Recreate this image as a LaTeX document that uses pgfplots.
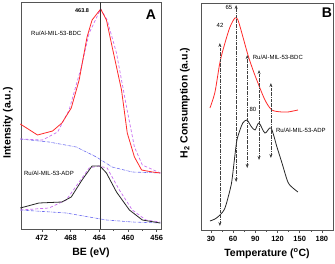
\documentclass[border=0pt]{standalone}
\usepackage{fontspec}
\setmainfont{Liberation Sans}
\usepackage{pgfplots}
\pgfplotsset{compat=1.18}
\usetikzlibrary{arrows.meta}
\definecolor{cred}{HTML}{FF2A2A}
\definecolor{cpur}{HTML}{C86EF0}
\definecolor{cblu}{HTML}{6A6AF0}
\definecolor{cfr}{HTML}{555555}
\tikzset{
  lab/.style={font=\fontsize{6}{7}\selectfont, inner sep=0pt},
  arr/.style={black!75, densely dashdotted, line width=0.6pt, {Stealth[length=4pt,width=3pt]}-{Stealth[length=4pt,width=3pt]}},
}
\begin{document}
\begin{tikzpicture}
\useasboundingbox (0pt,0pt) rectangle (335pt,263pt);
\pgfplotsset{
  common/.style={
    scale only axis, height=227pt, ymin=0, ymax=227, ytick=\empty,
    xtick pos=bottom, tick align=outside, minor x tick num=1,
    major tick length=2.5pt, minor tick length=1.5pt,
    axis line style={draw=cfr, line width=0.8pt},
    every tick/.style={cfr, line width=0.6pt},
    /pgf/number format/assume math mode=true,
    xticklabel style={font=\bfseries\fontsize{7.5}{8}\selectfont, yshift=-0.5pt},
    label style={font=\bfseries\fontsize{10.5}{12}\selectfont},
    xlabel style={at={(axis description cs:0.5,-0.106)}, anchor=center},
    clip=false,
  },
}
% ---------------- Panel A ----------------
\begin{axis}[common, at={(21pt,34pt)}, anchor=south west, width=140pt,
  x dir=reverse, xmin=455.4, xmax=474.9, xtick={456,460,464,468,472},
  xlabel={BE (eV)}, ylabel={Intensity (a.u.)},
  ylabel style={at={(axis description cs:-0.093,0.467)}, anchor=center}]
\addplot[cblu, densely dashdotted, line width=0.6pt] coordinates {
(475.0,90)(471.0,87)(467.2,82)(464.4,72)(462.2,62)(459.4,57)(455.5,56)};
\addplot[cpur, densely dashed, line width=0.7pt] coordinates {
(475.0,90)(471.9,89)(469.8,97)(468.2,119)(466.5,162)(465.4,196)(463.8,220)(462.9,209)(461.6,176)(460.2,122)(459.1,82)(458.0,64)(455.5,56)};
\addplot[cred, line width=0.8pt] coordinates {
(475.0,105)(472.6,94)(470.5,98)(469.2,106)(467.9,121)(466.8,149)(465.7,192)(465.0,209)(463.8,220)(463.0,209)(462.2,182)(460.9,139)(460.1,96)(459.1,72)(458.1,59)(456.6,57)(455.5,56)};
\addplot[cblu, densely dashdotted, line width=0.6pt] coordinates {
(475.0,19)(468.6,16)(465.4,12)(463.0,9)(459.4,7)(455.5,6)};
\addplot[cpur, densely dashed, line width=0.7pt] coordinates {
(475.0,19)(471.0,21)(468.6,29)(466.8,47)(465.4,61)(464.1,63)(462.9,61)(461.2,39)(459.4,19)(457.5,9)(455.5,7)};
\addplot[black!85, line width=0.8pt] coordinates {
(475.0,21)(472.4,26)(469.2,27)(467.9,32)(466.4,49)(465.0,63)(463.9,63)(463.0,56)(461.6,37)(459.8,19)(458.0,9)(455.5,6)};
\addplot[black!80, line width=0.6pt] coordinates {(463.8,0)(463.8,227)};
\node[lab, font=\bfseries\fontsize{5.5}{6}\selectfont] at (axis cs:466.4,218) {463.8};
\node[lab] at (axis cs:470.0,196) {Ru/Al-MIL-53-BDC};
\node[lab] at (axis cs:471.0,56) {Ru/Al-MIL-53-ADP};
\node[font=\bfseries\fontsize{14}{15}\selectfont, inner sep=0pt] at (axis cs:456.8,214) {A};
\end{axis}
% ---------------- Panel B ----------------
\begin{axis}[common, at={(201pt,33pt)}, anchor=south west, width=132pt,
  xmin=16.5, xmax=195, xtick={30,60,90,120,150,180},
  xlabel={Temperature (\textsuperscript{o}C)}, ylabel={H\textsubscript{2} Consumption (a.u.)},
  ylabel style={at={(axis description cs:-0.121,0.56)}, anchor=center}]
\addplot[cred, line width=0.8pt, smooth, tension=0.5] coordinates {
(28.6,122)(35.4,138)(42.2,168)(48.9,187)(55.7,203)(62.4,212)(66.5,210)(73.2,193)(80,175)(86.8,160)(93.5,147)(103,130)(112.4,120)(126,118)(134,118)(147.6,120)};
\addplot[black!85, line width=0.8pt, smooth, tension=0.5] coordinates {
(28.6,9)(35.4,11)(42.2,15)(48.9,22)(55.7,40)(58.4,50)(62.4,75)(65.1,90)(69.2,100)(73,107)(78.6,110)(84,104)(89.5,100)(94.9,107)(103,97)(111.1,102)(119.2,83)(126,67)(134,48)(140.8,42)(147.6,38)};
\addplot[arr] coordinates {(42,4)(42,187)};
\addplot[arr] coordinates {(64,48)(64,225)};
\addplot[arr] coordinates {(79,62)(79,175)};
\addplot[arr] coordinates {(95,70)(95,160)};
\addplot[arr] coordinates {(111,72)(111,147)};
\node[lab] at (axis cs:54.3,223) {65};
\node[lab] at (axis cs:42.2,205) {42};
\node[lab] at (axis cs:86.8,121) {80};
\node[lab] at (axis cs:120.5,173) {Ru/Al-MIL-53-BDC};
\node[lab] at (axis cs:151.6,100) {Ru/Al-MIL-53-ADP};
\node[font=\bfseries\fontsize{14}{15}\selectfont, inner sep=0pt] at (axis cs:186.8,217) {B};
\end{axis}
\end{tikzpicture}
\end{document}
